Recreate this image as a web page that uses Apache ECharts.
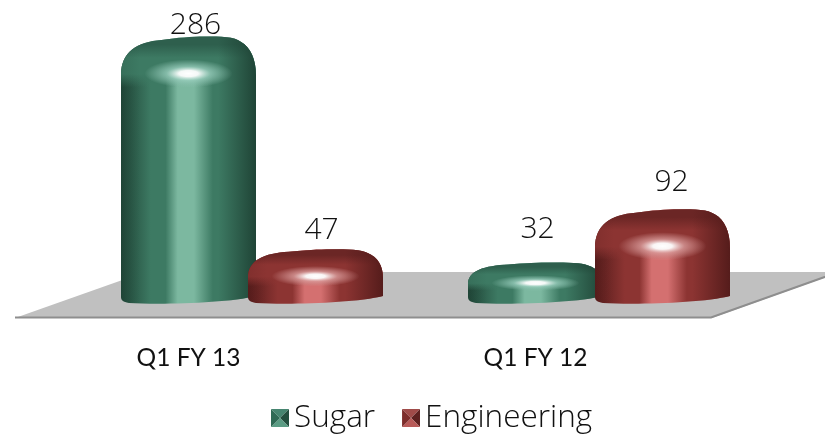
<!DOCTYPE html>
<html>
<head>
<meta charset="utf-8">
<style>
  html, body { margin: 0; padding: 0; background: #fff; }
  #chart { width: 825px; height: 437px; }
</style>
<script src="https://cdn.jsdelivr.net/npm/echarts@6/dist/echarts.min.js"></script>
</head>
<body>
<div id="chart"></div>
<script>
var categories = ["Q1 FY 13", "Q1 FY 12"];
var sugarValues = [286, 32];
var engineeringValues = [47, 92];

// colours per series: edge, mid, stripe, top of the dome, tint of the glare
var greenTones = { dark: "#1f4436", mid: "#3d7a63", light: "#7cb8a0", top: "#2e5f4d", glow: "190,240,225" };
var redTones = { dark: "#551c1b", mid: "#8c3432", light: "#d47070", top: "#6b2625", glow: "250,200,200" };

// hand placed label nudges from the picture, [dx, lift] per category
var sugarLabelNudge = [[7, 0], [2, 22]];
var engineeringLabelNudge = [[6, 8], [9, 16]];

var BAR_W = 135;
var BAR_OFFSET = 63.5;

function hGradient(stops) {
    return new echarts.graphic.LinearGradient(0, 0, 1, 0, stops);
}

function domeTop(x0, x1, top, cap) {
    var w = x1 - x0;
    return "M" + x0 + " " + (top + cap) +
        "C" + x0 + " " + (top + cap * 0.38) + " " + (x0 + w * 0.12) + " " + (top + cap * 0.14) + " " + (x0 + w * 0.3) + " " + (top + cap * 0.09) +
        "C" + (x0 + w * 0.42) + " " + (top + cap * 0.03) + " " + (x0 + w * 0.52) + " " + top + " " + (x0 + w * 0.62) + " " + top +
        "C" + (x0 + w * 0.74) + " " + top + " " + (x0 + w * 0.84) + " " + top + " " + (x0 + w * 0.89) + " " + (top + cap * 0.14) +
        "C" + (x0 + w * 0.96) + " " + (top + cap * 0.28) + " " + x1 + " " + (top + cap * 0.58) + " " + x1 + " " + (top + cap);
}

function silhouette(x0, x1, top, cap, bottom) {
    var w = x1 - x0;
    return domeTop(x0, x1, top, cap) +
        "L" + x1 + " " + (bottom - 8) +
        "C" + (x1 - w * 0.2) + " " + (bottom - 1) + " " + (x0 + w * 0.3) + " " + (bottom + 1) + " " + (x0 + 8) + " " + (bottom - 1) +
        "C" + (x0 + 2) + " " + (bottom - 2) + " " + x0 + " " + (bottom - 4) + " " + x0 + " " + (bottom - 7) + "Z";
}

function capPath(x0, x1, top, cap, low) {
    return domeTop(x0, x1, top, cap) + "L" + x1 + " " + low + "L" + x0 + " " + low + "Z";
}

function makeRenderItem(tones, side, nudges) {
    return function (params, api) {
        var idx = api.value(0);
        var val = api.value(1);
        var base = api.coord([idx, 0]);
        var head = api.coord([idx, val]);
        var cx = base[0] + side * BAR_OFFSET;
        var x0 = cx - BAR_W / 2;
        var x1 = cx + BAR_W / 2;
        var top = head[1];
        var bottom = base[1] + 13;
        var h = bottom - top;
        var cap = Math.min(39, h * 0.52);
        var capLow = top + cap * 1.3;
        var nudge = nudges[idx];

        var bodyFill = hGradient([
            { offset: 0, color: tones.dark },
            { offset: 0.22, color: tones.mid },
            { offset: 0.33, color: tones.mid },
            { offset: 0.42, color: tones.light },
            { offset: 0.54, color: tones.light },
            { offset: 0.68, color: tones.mid },
            { offset: 1, color: tones.mid }
        ]);
        var capFade = new echarts.graphic.LinearGradient(0, 0, 0, 1, [
            { offset: 0, color: tones.top },
            { offset: 0.16, color: tones.top },
            { offset: 0.42, color: tones.mid },
            { offset: 0.74, color: tones.mid },
            { offset: 1, color: tones.mid + "00" }
        ]);
        var edgeShade = hGradient([
            { offset: 0, color: tones.dark + "33" },
            { offset: 0.14, color: tones.dark + "00" },
            { offset: 0.72, color: tones.dark + "00" },
            { offset: 1, color: tones.dark }
        ]);
        var spot = new echarts.graphic.RadialGradient(0.5, 0.5, 0.5, [
            { offset: 0, color: "rgba(255,255,255,1)" },
            { offset: 0.22, color: "rgba(255,255,255,0.95)" },
            { offset: 0.5, color: "rgba(" + tones.glow + ",0.55)" },
            { offset: 1, color: "rgba(" + tones.glow + ",0)" }
        ]);
        var spotY = top + cap * 0.95;
        var spotH = Math.max(7, cap * 0.36);

        return {
            type: "group",
            children: [
                { type: "path", shape: { pathData: silhouette(x0, x1, top, cap, bottom) }, style: { fill: bodyFill } },
                { type: "path", shape: { pathData: capPath(x0, x1, top, cap, capLow) }, style: { fill: capFade } },
                { type: "path", shape: { pathData: silhouette(x0, x1, top, cap, bottom) }, style: { fill: edgeShade } },
                {
                    type: "circle",
                    shape: { cx: 0, cy: 0, r: spotH },
                    x: cx, y: spotY,
                    scaleX: 44 / spotH,
                    style: { fill: spot }
                },
                {
                    type: "text",
                    x: cx + nudge[0], y: top - nudge[1] + 4,
                    style: {
                        text: String(val),
                        fill: "#111",
                        font: "300 30px 'Open Sans'",
                        textAlign: "center",
                        textVerticalAlign: "bottom"
                    }
                }
            ]
        };
    };
}

function pyramidIcon(dark, mid, light, top) {
    var svg = "<svg xmlns='http://www.w3.org/2000/svg' width='18' height='18'>" +
        "<polygon points='0,0 18,0 9,9' fill='" + top + "'/>" +
        "<polygon points='18,0 18,18 9,9' fill='" + dark + "'/>" +
        "<polygon points='0,18 18,18 9,9' fill='" + light + "'/>" +
        "<polygon points='0,0 0,18 9,9' fill='" + mid + "'/></svg>";
    return "image://data:image/svg+xml;charset=utf-8," + encodeURIComponent(svg);
}

function toPoints(values) {
    return values.map(function (v, i) { return [i, v]; });
}

var chart = echarts.init(document.getElementById("chart"));
chart.setOption({
    animation: false,
    backgroundColor: "#fff",
    grid: { left: 78.5, width: 694, top: 36.5, height: 254.5 },
    xAxis: {
        type: "category",
        data: categories,
        axisLine: { show: false },
        axisTick: { show: false },
        axisLabel: {
            color: "#111",
            fontFamily: "Lato",
            fontSize: 24.5,
            margin: 55,
            padding: [0, 127, 0, 0]
        }
    },
    yAxis: { type: "value", min: 0, max: 286, show: false, splitLine: { show: false } },
    legend: {
        left: 271,
        top: 402,
        padding: 0,
        itemWidth: 18,
        itemHeight: 18,
        itemGap: 27,
        textStyle: { fontFamily: "Open Sans", fontWeight: 300, fontSize: 31.5, color: "#111", padding: [4, 0, 0, 0] },
        data: [
            { name: "Sugar", icon: pyramidIcon("#234f3f", "#2f6a55", "#5b9c84", "#468570") },
            { name: "Engineering", icon: pyramidIcon("#5e2120", "#7d2d2b", "#b85a58", "#a04b49") }
        ]
    },
    graphic: [
        {
            type: "polygon",
            z: 0,
            shape: { points: [[15, 318], [145, 272], [840, 272], [712, 318]] },
            style: { fill: "#c0c0c0" }
        },
        {
            type: "polyline",
            z: 0,
            shape: { points: [[15, 317.5], [711, 317.5], [836, 273]] },
            style: { stroke: "#8e8e8e", lineWidth: 2, fill: null }
        }
    ],
    series: [
        {
            name: "Sugar",
            type: "custom",
            renderItem: makeRenderItem(greenTones, -1, sugarLabelNudge),
            encode: { x: 0, y: 1 },
            data: toPoints(sugarValues)
        },
        {
            name: "Engineering",
            type: "custom",
            renderItem: makeRenderItem(redTones, 1, engineeringLabelNudge),
            encode: { x: 0, y: 1 },
            data: toPoints(engineeringValues)
        }
    ]
});
</script>
</body>
</html>
